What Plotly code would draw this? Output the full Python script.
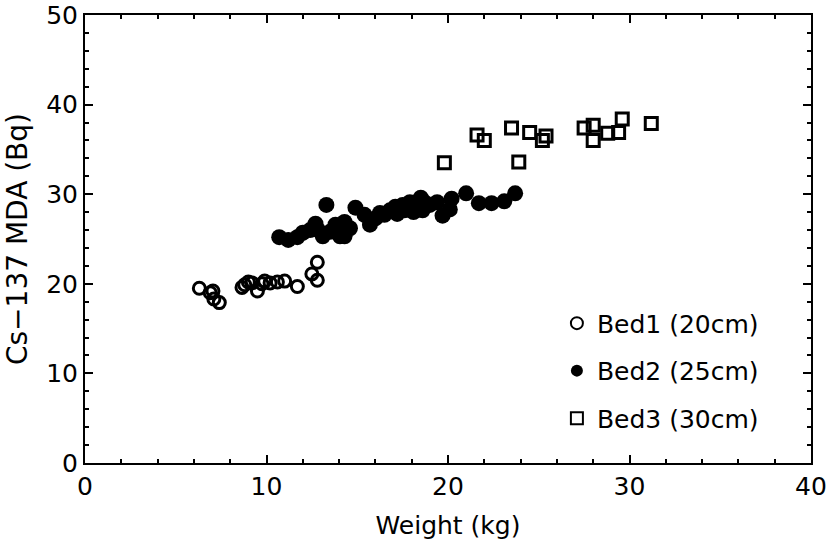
import plotly.graph_objects as go

# Bed1 (20cm)
bed1_w = [6.3, 6.9, 7.05, 7.1, 7.4, 8.65, 8.8, 9.0, 9.2, 9.5, 9.75, 9.9, 10.2, 10.6, 11.0, 11.7, 12.5, 12.8, 12.8]
bed1_mda = [19.5, 19.0, 19.2, 18.3, 17.9, 19.6, 19.9, 20.2, 20.1, 19.2, 20.0, 20.3, 20.1, 20.2, 20.3, 19.7, 21.1, 22.4, 20.4]

# Bed2 (25cm)
bed2_w = [10.7, 11.2, 11.7, 12.0, 12.4, 12.7, 12.85, 13.1, 13.3, 13.5, 13.8, 14.05, 14.3, 14.3,
          14.6, 14.9, 15.4, 15.7, 16.0, 16.25, 16.5, 16.8, 17.1, 17.2, 17.5, 17.6, 17.9, 18.1,
          18.3, 18.5, 18.6, 18.7, 19.0, 19.4, 19.7, 20.1, 20.2, 21.0, 21.7, 22.4, 23.1, 23.7]
bed2_mda = [25.2, 24.9, 25.2, 25.7, 26.0, 26.7, 26.0, 25.3, 28.8, 25.8, 26.6, 25.3, 26.9, 25.3,
            26.2, 28.5, 27.7, 26.6, 27.3, 27.9, 27.7, 28.2, 28.6, 27.8, 28.8, 28.2, 29.1, 28.0,
            28.8, 29.6, 28.2, 29.1, 28.8, 29.1, 27.6, 28.3, 29.5, 30.1, 29.0, 29.0, 29.2, 30.1]

# Bed3 (30cm)
bed3_w = [19.8, 21.6, 22.0, 23.5, 23.9, 24.5, 25.2, 25.4, 27.5, 28.0, 28.0, 28.8, 29.4, 29.6, 31.2]
bed3_mda = [33.5, 36.6, 36.0, 37.4, 33.6, 36.9, 36.0, 36.5, 37.4, 37.7, 36.0, 36.8, 36.9, 38.4, 37.9]

FONT = "DejaVu Sans, Liberation Sans, Arial, sans-serif"

fig = go.Figure()

fig.add_trace(go.Scatter(
    x=bed1_w, y=bed1_mda, mode="markers", name="Bed1 (20cm)", legendgroup="b1",
    marker=dict(symbol="circle-open", size=12, color="black", line=dict(width=3)),
))
fig.add_trace(go.Scatter(
    x=bed2_w, y=bed2_mda, mode="markers", name="Bed2 (25cm)", legendgroup="b2",
    marker=dict(symbol="circle", size=16, color="black"),
))
fig.add_trace(go.Scatter(
    x=bed3_w, y=bed3_mda, mode="markers", name="Bed3 (30cm)", legendgroup="b3",
    marker=dict(symbol="square-open", size=12, color="black", line=dict(width=3)),
))

axis_style = dict(
    showgrid=False, zeroline=False, showline=True, linecolor="black", linewidth=2,
    mirror="ticks", ticks="inside", ticklen=8, tickwidth=1.5, tickcolor="black",
    tickfont=dict(size=25, color="black", family=FONT), automargin=False,
    ticklabeloverflow="allow",
    minor=dict(ticks="inside", ticklen=4, tickwidth=1.5, tickcolor="black", dtick=2),
)

fig.update_xaxes(range=[0, 40], dtick=10,
                 title=dict(text="Weight (kg)", font=dict(size=25, color="black", family=FONT), standoff=16),
                 **axis_style)
fig.update_yaxes(range=[0, 50], dtick=10,
                 title=dict(text="Cs\u2212137 MDA (Bq)", font=dict(size=28, color="black", family=FONT), standoff=10),
                 **axis_style)

fig.update_layout(
    width=830, height=542,
    margin=dict(l=85, r=19, t=15, b=79),
    plot_bgcolor="white", paper_bgcolor="white",
    font=dict(family=FONT, color="black"),
    legend=dict(
        x=0.65, y=0.363, xanchor="left", yanchor="top",
        font=dict(size=25), tracegroupgap=12, bgcolor="rgba(0,0,0,0)",
        itemsizing="constant",
    ),
)

# drop the default 8px page margin so the figure fills the window exactly
fig.write_html("out.html", config={"displayModeBar": False},
               post_script="document.body.style.margin = '0';")
